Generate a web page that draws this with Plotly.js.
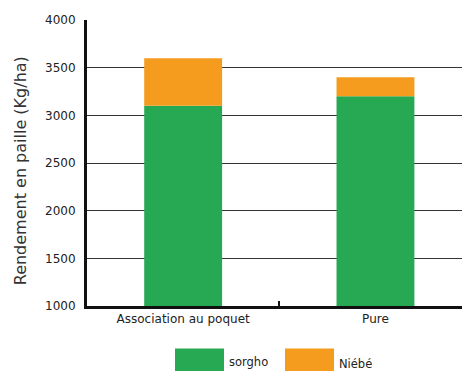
<!DOCTYPE html>
<html><head><meta charset="utf-8">
<script src="https://cdn.plot.ly/plotly-3.0.1.min.js"></script>
<style>html,body{margin:0;padding:0;background:#fff}#c{width:462px;height:371px}</style>
</head><body><div id="c"></div>
<script>
const categories = ["Association au poquet", "Pure"];
const seriesNames = ["sorgho", "Niébé"];
const sorgho = [3100, 3200];
const niebe = [500, 200];
const yTicks = [1000, 1500, 2000, 2500, 3000, 3500, 4000];
const yTitle = "Rendement en paille (Kg/ha)";
const colors = ["#27A853", "#F59B1E"];

const font = {family: "DejaVu Sans, sans-serif", color: "#222"};
const traces = [sorgho, niebe].map((vals, i) => ({
  type: "bar", x: categories, y: vals, name: seriesNames[i],
  marker: {color: colors[i]}, width: 0.405, showlegend: false,
  hoverinfo: "x+y+name"
}));
traces[0].base = [1000, 1000];
traces[0].y = sorgho.map(v => v - 1000);
traces[1].base = sorgho;

// legend swatches (paper coords)
const legendX = [[0.2347, 0.3653], [0.528, 0.6587]];
const shapes = legendX.map((lx, i) => ({
  type: "rect", xref: "paper", yref: "paper", x0: lx[0], x1: lx[1],
  y0: -0.149, y1: -0.23, fillcolor: colors[i], line: {width: 0}
}));
const annotations = seriesNames.map((n, i) => ({
  xref: "paper", yref: "paper", x: legendX[i][1] + 0.008, y: i === 0 ? -0.196 : -0.203,
  xanchor: "left", yanchor: "middle", text: n, showarrow: false,
  font: {family: font.family, size: 11.5, color: "#222"}
}));
annotations.push({
  xref: "paper", yref: "paper", x: -0.178, y: 0.472, xanchor: "center", yanchor: "middle",
  text: yTitle, textangle: -90, showarrow: false,
  font: {family: font.family, size: 16, color: "#333"}
});

const layout = {
  width: 462, height: 371,
  margin: {l: 87, r: 0, t: 20, b: 65},
  paper_bgcolor: "#fff", plot_bgcolor: "#fff",
  barmode: "overlay",
  font: font,
  xaxis: {
    type: "category", range: [-0.5, 1.45],
    showline: true, linecolor: "#111", linewidth: 3,
    ticks: "inside", tickson: "boundaries", ticklen: 5, tickwidth: 2, tickcolor: "#111",
    showgrid: false, tickfont: {size: 12, color: "#222"}, fixedrange: true
  },
  yaxis: {
    range: [1000, 4000], tickvals: yTicks,
    showline: true, linecolor: "#111", linewidth: 3,
    showgrid: true, gridcolor: "#333", gridwidth: 1,
    zeroline: false, ticks: "", ticklabelstandoff: 6,
    tickfont: {size: 12, color: "#222"},
    fixedrange: true
  },
  shapes: shapes,
  annotations: annotations
};
Plotly.newPlot("c", traces, layout, {displayModeBar: false, staticPlot: true});
</script></body></html>
